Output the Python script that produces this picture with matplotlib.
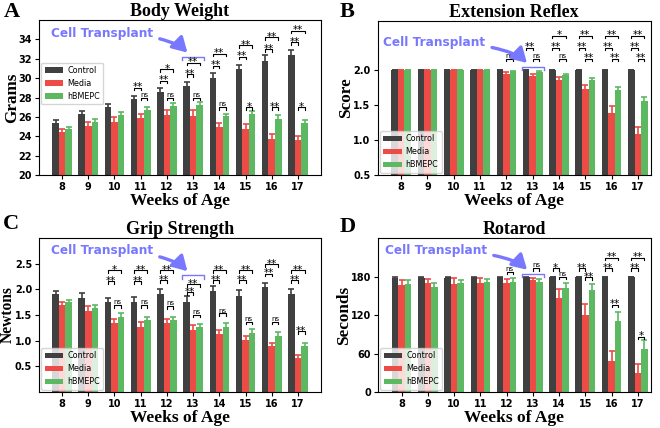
import numpy as np
import matplotlib.pyplot as plt

weeks = [8, 9, 10, 11, 12, 13, 14, 15, 16, 17]
groups = ["Control", "Media", "hBMEPC"]

# body weight (grams)
bw_ctrl = [25.4, 26.3, 27.0, 27.8, 28.6, 29.2, 30.0, 30.9, 31.8, 32.4]
bw_ctrl_err = [0.3, 0.35, 0.35, 0.4, 0.4, 0.45, 0.5, 0.5, 0.6, 0.55]
bw_media = [24.4, 25.1, 25.5, 25.9, 26.2, 26.1, 25.0, 24.8, 23.7, 23.6]
bw_media_err = [0.4, 0.4, 0.45, 0.4, 0.5, 0.6, 0.35, 0.45, 0.5, 0.45]
bw_cells = [24.7, 25.5, 26.2, 26.7, 27.1, 27.2, 26.1, 26.3, 25.8, 25.4]
bw_cells_err = [0.3, 0.3, 0.3, 0.3, 0.3, 0.35, 0.25, 0.3, 0.35, 0.3]

# extension reflex score
er_ctrl = [2.0, 2.0, 2.0, 2.0, 2.0, 2.0, 2.0, 2.0, 2.0, 2.0]
er_ctrl_err = [0, 0, 0, 0, 0, 0, 0, 0, 0, 0]
er_media = [2.0, 2.0, 2.0, 2.0, 1.95, 1.91, 1.86, 1.73, 1.38, 1.08]
er_media_err = [0, 0, 0, 0, 0.02, 0.03, 0.04, 0.05, 0.10, 0.11]
er_cells = [2.0, 2.0, 2.0, 2.0, 1.98, 1.97, 1.93, 1.86, 1.72, 1.56]
er_cells_err = [0, 0, 0, 0, 0.01, 0.02, 0.01, 0.03, 0.04, 0.06]

# grip strength (newtons)
gs_ctrl = [1.91, 1.83, 1.75, 1.76, 1.91, 1.76, 1.97, 1.88, 2.04, 1.90]
gs_ctrl_err = [0.06, 0.09, 0.09, 0.1, 0.09, 0.12, 0.09, 0.11, 0.09, 0.11]
gs_media = [1.69, 1.57, 1.34, 1.27, 1.34, 1.21, 1.13, 1.01, 0.89, 0.66]
gs_media_err = [0.06, 0.1, 0.09, 0.1, 0.09, 0.09, 0.07, 0.09, 0.06, 0.07]
gs_cells = [1.75, 1.63, 1.47, 1.40, 1.40, 1.26, 1.27, 1.15, 1.09, 0.90]
gs_cells_err = [0.05, 0.07, 0.07, 0.07, 0.07, 0.07, 0.07, 0.07, 0.07, 0.06]

# rotarod (seconds)
rr_ctrl = [177, 178, 178, 179, 179, 179, 180, 180, 180, 180]
rr_ctrl_err = [2, 1, 1, 1, 1, 1, 0, 0, 0, 0]
rr_media = [166, 170, 169, 170, 170, 175, 146, 120, 49, 29]
rr_media_err = [8, 6, 8, 8, 6, 3, 14, 17, 15, 14]
rr_cells = [168, 164, 170, 171, 172, 171, 162, 159, 111, 67]
rr_cells_err = [6, 6, 4, 5, 5, 5, 8, 9, 13, 14]

# significance marks: (week, pair, label, height)
bw_sig = [(11, "CM", "**", 29.0), (11, "MG", "ns", 27.95),
          (12, "CM", "**", 29.75), (12, "MG", "ns", 28.0), (12, "CG", "*", 30.9),
          (13, "CM", "**", 30.4), (13, "MG", "ns", 28.0), (13, "CG", "**", 31.6),
          (14, "CM", "**", 31.3), (14, "MG", "ns", 27.0), (14, "CG", "**", 32.5),
          (15, "CM", "**", 32.2), (15, "MG", "*", 27.0), (15, "CG", "**", 33.4),
          (16, "CM", "**", 33.0), (16, "MG", "**", 27.0), (16, "CG", "**", 34.2),
          (17, "CM", "**", 33.7), (17, "MG", "*", 27.0), (17, "CG", "**", 34.9)]
er_sig = [(12, "MG", "ns", 2.16),
          (13, "CM", "**", 2.32), (13, "MG", "ns", 2.16),
          (14, "CM", "**", 2.32), (14, "MG", "ns", 2.16), (14, "CG", "*", 2.49),
          (15, "CM", "**", 2.32), (15, "MG", "**", 2.16), (15, "CG", "**", 2.49),
          (16, "CM", "**", 2.32), (16, "MG", "**", 2.16), (16, "CG", "**", 2.49),
          (17, "CM", "**", 2.32), (17, "MG", "**", 2.16), (17, "CG", "**", 2.49)]
gs_sig = [(10, "CM", "**", 2.16), (10, "MG", "ns", 1.69), (10, "CG", "*", 2.37),
          (11, "CM", "**", 2.16), (11, "MG", "ns", 1.69), (11, "CG", "**", 2.37),
          (12, "CM", "**", 2.18), (12, "MG", "ns", 1.67), (12, "CG", "**", 2.37),
          (13, "CM", "**", 1.94), (13, "MG", "ns", 1.50), (13, "CG", "**", 2.10),
          (14, "CM", "**", 2.18), (14, "MG", "ns", 1.53), (14, "CG", "**", 2.37),
          (15, "CM", "**", 2.18), (15, "MG", "ns", 1.37), (15, "CG", "**", 2.37),
          (16, "CM", "**", 2.30), (16, "MG", "ns", 1.37), (16, "CG", "**", 2.49),
          (17, "CM", "**", 2.18), (17, "MG", "**", 1.18), (17, "CG", "**", 2.37)]
rr_sig = [(12, "MG", "ns", 187),
          (13, "MG", "ns", 193),
          (14, "CM", "*", 193), (14, "MG", "ns", 180),
          (15, "CM", "**", 193), (15, "MG", "**", 179),
          (16, "CM", "**", 193), (16, "MG", "**", 136), (16, "CG", "**", 209),
          (17, "CM", "**", 193), (17, "MG", "*", 86), (17, "CG", "**", 209)]

COLORS = ["#404040", "#ec4c45", "#5cb962"]
BLUE = "#7878ff"
W = 0.25
PAIRS = {"CM": (-W, 0), "MG": (0, W), "CG": (-W, W)}
SERIF = "Liberation Serif"

fig = plt.figure(figsize=(6.6, 4.28), dpi=100)
axA = fig.add_axes([0.0591, 0.5911, 0.4273, 0.3621])
axB = fig.add_axes([0.5720, 0.5911, 0.4144, 0.3598])
axC = fig.add_axes([0.0591, 0.0841, 0.4273, 0.3598])
axD = fig.add_axes([0.5727, 0.0841, 0.4136, 0.3598])


def panel(ax, series, errs, sig, blue_y, title, ylabel, ylabel_x, ylabel_size,
          ylim, yticks, xlim, txt_pos, legend_kw):
    x = np.arange(len(weeks))
    for i, (vals, err) in enumerate(zip(series, errs)):
        ax.bar(x + (i - 1) * W, vals, W, color=COLORS[i], label=groups[i],
               yerr=err, ecolor=COLORS[i], capsize=2.2,
               error_kw=dict(elinewidth=1.2, capthick=1.2))
    ax.set_xticks(x)
    ax.set_xticklabels(weeks)
    ax.set_xlim(*xlim)
    ax.set_ylim(*ylim)
    ax.set_yticks(yticks)
    ax.tick_params(labelsize=7.0, length=3, pad=2)
    for lab in ax.get_xticklabels() + ax.get_yticklabels():
        lab.set_fontweight("bold")
    ax.set_title(title, fontsize=13, fontweight="bold", family=SERIF, pad=3)
    ax.set_ylabel(ylabel, fontsize=ylabel_size, fontweight="bold", family=SERIF)
    ax.yaxis.set_label_coords(ylabel_x, 0.5)
    ax.set_xlabel("Weeks of Age", fontsize=12.5, fontweight="bold", family=SERIF, labelpad=1)

    dy = 0.016 * (ylim[1] - ylim[0])
    for wk, pair, label, y in sig:
        c = weeks.index(wk)
        x1, x2 = c + PAIRS[pair][0], c + PAIRS[pair][1]
        ax.plot([x1, x1, x2, x2], [y - dy, y, y, y - dy], color="black", lw=0.8)
        if label == "ns":
            ax.annotate(label, ((x1 + x2) / 2, y), xytext=(0, 0.6), textcoords="offset points",
                        ha="center", va="baseline", fontsize=5)
        else:
            ax.annotate(label, ((x1 + x2) / 2, y), xytext=(0, -1.8), textcoords="offset points",
                        ha="center", va="baseline", fontsize=7.5)

    # cell transplant marker over week 13
    c = weeks.index(13)
    ax.plot([c - 0.42, c - 0.42, c + 0.42, c + 0.42],
            [blue_y - 1.3 * dy, blue_y, blue_y, blue_y - 1.3 * dy], color=BLUE, lw=1)
    ax.annotate("Cell Transplant", xy=(c - 0.08, blue_y), xytext=txt_pos,
                textcoords="axes fraction", ha="center", va="center",
                fontsize=8.7, fontweight="bold", color=BLUE,
                arrowprops=dict(arrowstyle="-|>,head_length=0.55,head_width=0.32",
                                color=BLUE, lw=2.4, mutation_scale=16,
                                shrinkA=3, shrinkB=4,
                                connectionstyle="angle3,angleA=0,angleB=-55"))
    ax.legend(fontsize=5.8, handlelength=2.3, handletextpad=0.5, borderpad=0.4,
              labelspacing=0.5, **legend_kw)


panel(axA, [bw_ctrl, bw_media, bw_cells], [bw_ctrl_err, bw_media_err, bw_cells_err],
      bw_sig, 32.2, "Body Weight", "Grams", -0.068, 12.3, (20, 36), range(20, 35, 2),
      (-0.88, 9.88), (0.223, 0.916),
      dict(loc="upper left", bbox_to_anchor=(0.0, 0.74), borderaxespad=0.3))
panel(axB, [er_ctrl, er_media, er_cells], [er_ctrl_err, er_media_err, er_cells_err],
      er_sig, 2.04, "Extension Reflex", "Score", -0.086, 12.3, (0.5, 2.7), [0.5, 1.0, 1.5, 2.0],
      (-0.9, 9.5), (0.207, 0.859), dict(loc="lower left", borderaxespad=0.3))
panel(axC, [gs_ctrl, gs_media, gs_cells], [gs_ctrl_err, gs_media_err, gs_cells_err],
      gs_sig, 2.27, "Grip Strength", "Newtons", -0.083, 11.2, (0, 3), [0.5, 1.0, 1.5, 2.0, 2.5],
      (-0.88, 9.88), (0.223, 0.917), dict(loc="lower left", borderaxespad=0.3))
panel(axD, [rr_ctrl, rr_media, rr_cells], [rr_ctrl_err, rr_media_err, rr_cells_err],
      rr_sig, 184, "Rotarod", "Seconds", -0.095, 12.3, (0, 240), [0, 60, 120, 180],
      (-0.9, 9.5), (0.212, 0.917), dict(loc="lower left", borderaxespad=0.3))

for letter, (lx, ly) in zip("ABCD", [(0.005, 0.960), (0.515, 0.960), (0.005, 0.465), (0.515, 0.458)]):
    fig.text(lx, ly, letter, fontsize=16, fontweight="bold", family=SERIF, va="baseline")

fig.savefig("out.png", dpi=100)
